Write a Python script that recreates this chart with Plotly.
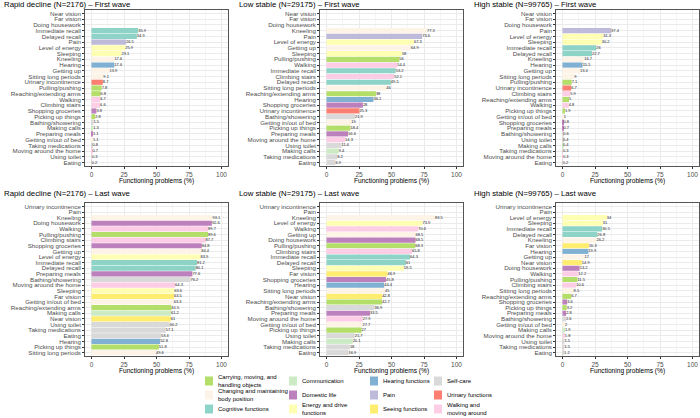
import plotly.graph_objects as go

# ---------------- data ----------------
rd_first_cats = ["Near vision", "Far vision", "Doing housework", "Immediate recall", "Delayed recall", "Pain",
                 "Level of energy", "Sleeping", "Kneeling", "Hearing", "Getting up", "Sitting long periods",
                 "Urinary incontinence", "Pulling/pushing", "Reaching/extending arms", "Walking", "Climbing stairs",
                 "Shopping groceries", "Picking up things", "Bathing/showering", "Making calls", "Preparing meals",
                 "Getting in/out of bed", "Taking medications", "Moving around the home", "Using toilet", "Eating"]
rd_first_vals = [None, None, None, 35.9, 34.9, 26.5, 25.9, 23.1, 17.6, 17.6, 13.9, 9.1, 8.7, 7.8, 6.8, 6.7, 6.6,
                 3.8, 2.8, 1.5, 1.3, 1.1, 1.1, 0.8, 0.7, 0.3, 0.2]

ls_first_cats = ["Near vision", "Far vision", "Doing housework", "Kneeling", "Pain", "Level of energy", "Getting up",
                 "Sleeping", "Pulling/pushing", "Walking", "Immediate recall", "Climbing stairs", "Delayed recall",
                 "Sitting long periods", "Reaching/extending arms", "Hearing", "Shopping groceries",
                 "Urinary incontinence", "Bathing/showering", "Getting in/out of bed", "Picking up things",
                 "Preparing meals", "Moving around the home", "Using toilet", "Making calls", "Taking medications",
                 "Eating"]
ls_first_vals = [None, None, None, 77.3, 73.6, 67.3, 64.9, 58, 56, 54.4, 53.2, 52.1, 49.5, 46, 38, 36.1, 28, 25.3,
                 21.9, 19, 18.4, 16.6, 14.3, 11.6, 9.4, 8.2, 6.9]

hs_first_cats = ["Near vision", "Far vision", "Doing housework", "Pain", "Level of energy", "Sleeping",
                 "Immediate recall", "Delayed recall", "Kneeling", "Hearing", "Getting up", "Sitting long periods",
                 "Pulling/pushing", "Urinary incontinence", "Climbing stairs", "Reaching/extending arms", "Walking",
                 "Picking up things", "Getting in/out of bed", "Shopping groceries", "Preparing meals",
                 "Bathing/showering", "Using toilet", "Making calls", "Taking medications", "Moving around the home",
                 "Eating"]
hs_first_vals = [None, None, None, 37.4, 31.3, 30.2, 26, 22.7, 16.7, 15.5, 13.4, 9, 7.1, 6.7, 5.9, 5, 4.8, 1.9, 1,
                 0.8, 0.7, 0.6, 0.4, 0.4, 0.3, 0.3, 0.2]

rd_last_cats = ["Urinary incontinence", "Pain", "Kneeling", "Doing housework", "Walking", "Pulling/pushing",
                "Climbing stairs", "Shopping groceries", "Getting up", "Level of energy", "Immediate recall",
                "Delayed recall", "Preparing meals", "Bathing/showering", "Moving around the home", "Sleeping",
                "Far vision", "Getting in/out of bed", "Reaching/extending arms", "Making calls", "Near vision",
                "Using toilet", "Taking medications", "Eating", "Hearing", "Picking up things", "Sitting long periods"]
rd_last_vals = [None, None, 93.1, 92.6, 89.7, 89.6, 87.7, 84.8, 84.4, 83.9, 81.2, 80.1, 77.6, 76.2, 64.3, 63.6,
                63.5, 63.3, 61.5, 61.2, 61, 60.2, 57.1, 53.4, 52.8, 51.8, 49.6]

ls_last_cats = ["Urinary incontinence", "Pain", "Kneeling", "Level of energy", "Walking", "Getting up",
                "Doing housework", "Pulling/pushing", "Climbing stairs", "Immediate recall", "Delayed recall",
                "Sleeping", "Far vision", "Shopping groceries", "Hearing", "Sitting long periods", "Near vision",
                "Reaching/extending arms", "Bathing/showering", "Preparing meals", "Moving around the home",
                "Getting in/out of bed", "Picking up things", "Using toilet", "Making calls", "Taking medications",
                "Eating"]
ls_last_vals = [None, None, 83.5, 73.9, 70.6, 68.5, 68.5, 68.3, 65.8, 64.3, 61, 59.5, 46.9, 45.8, 44.4, 45, 42.8,
                42.7, 36.9, 33.5, 27.9, 27.7, 27, 21.7, 20.1, 18, 16.9]

hs_last_cats = ["Urinary incontinence", "Pain", "Level of energy", "Sleeping", "Immediate recall", "Delayed recall",
                "Kneeling", "Far vision", "Hearing", "Getting up", "Near vision", "Doing housework", "Walking",
                "Pulling/pushing", "Climbing stairs", "Sitting long periods", "Reaching/extending arms",
                "Shopping groceries", "Picking up things", "Preparing meals", "Bathing/showering",
                "Getting in/out of bed", "Making calls", "Moving around the home", "Using toilet",
                "Taking medications", "Eating"]
hs_last_vals = [None, None, 34, 31, 30.5, 26.8, 26.2, 20.3, 19.9, 17, 14.9, 13.2, 12.2, 11.5, 10.6, 8.5, 6.7, 3.6,
                3.2, 2.8, 2.6, 2, 1.9, 1.8, 1.5, 1.5, 1.2]

panel_titles = ["Rapid decline (N=2176) \u2013 First wave", "Low stable (N=29175) \u2013 First wave",
                "High stable (N=99765) \u2013 First wave", "Rapid decline (N=2176) \u2013 Last wave",
                "Low stable (N=29175) \u2013 Last wave", "High stable (N=99765) \u2013 Last wave"]

group_names = ["Carrying, moving, and handling objects", "Changing and maintaining body position",
               "Cognitive functions", "Communication", "Domestic life", "Energy and drive functions",
               "Hearing functions", "Pain", "Seeing functions", "Self-care", "Urinary functions",
               "Walking and moving around"]
group_colors = ["#B3DE69", "#FDF3E7", "#8DD3C7", "#CCEBC5", "#BC80BD", "#FFFFB3",
                "#80B1D3", "#BEBADA", "#FFED6F", "#D9D9D9", "#FB8072", "#FCCDE5"]
group_labels = ["Carrying, moving, and<br>handling objects", "Changing and maintaining<br>body position",
                "Cognitive functions", "Communication", "Domestic life", "Energy and drive<br>functions",
                "Hearing functions", "Pain", "Seeing functions", "Self-care", "Urinary functions",
                "Walking and<br>moving around"]

item_group = {
    "Near vision": "Seeing functions", "Far vision": "Seeing functions",
    "Doing housework": "Domestic life", "Shopping groceries": "Domestic life", "Preparing meals": "Domestic life",
    "Immediate recall": "Cognitive functions", "Delayed recall": "Cognitive functions",
    "Pain": "Pain",
    "Level of energy": "Energy and drive functions", "Sleeping": "Energy and drive functions",
    "Kneeling": "Changing and maintaining body position", "Getting up": "Changing and maintaining body position",
    "Sitting long periods": "Changing and maintaining body position",
    "Getting in/out of bed": "Changing and maintaining body position",
    "Hearing": "Hearing functions",
    "Urinary incontinence": "Urinary functions",
    "Pulling/pushing": "Carrying, moving, and handling objects",
    "Reaching/extending arms": "Carrying, moving, and handling objects",
    "Picking up things": "Carrying, moving, and handling objects",
    "Walking": "Walking and moving around", "Climbing stairs": "Walking and moving around",
    "Moving around the home": "Walking and moving around",
    "Bathing/showering": "Self-care", "Using toilet": "Self-care", "Taking medications": "Self-care",
    "Eating": "Self-care",
    "Making calls": "Communication",
}

x_ticks = [0, 25, 50, 75, 100]
x_title = "Functioning problems (%)"

panels = [(rd_first_cats, rd_first_vals), (ls_first_cats, ls_first_vals), (hs_first_cats, hs_first_vals),
          (rd_last_cats, rd_last_vals), (ls_last_cats, ls_last_vals), (hs_last_cats, hs_last_vals)]

# ---------------- layout geometry (pixels) ----------------
W, H = 700, 418
col_px = [(85, 228), (320, 463), (556, 699)]
row_px = [(10, 166), (203, 356)]
title_x_px = [2, 237, 472]
title_y_px = [4.5, 193]
xtitle_y_px = [181, 371]


def px_x(x):
    return x / W


def px_y(y):
    return 1 - y / H


fig = go.Figure()
color_of = dict(zip(group_names, group_colors))
annotations = []
shapes = []
layout_axes = {}
FONT = "Liberation Sans"

for p, (cats, vals) in enumerate(panels):
    r, c = divmod(p, 3)
    idx = p + 1
    xa = "x" if idx == 1 else f"x{idx}"
    ya = "y" if idx == 1 else f"y{idx}"
    for g in group_names:
        ys = [cat for cat, v in zip(cats, vals) if item_group[cat] == g and v is not None]
        xs = [v for cat, v in zip(cats, vals) if item_group[cat] == g and v is not None]
        if not ys:
            continue
        fig.add_trace(go.Bar(x=xs, y=ys, orientation="h", marker=dict(color=color_of[g], line=dict(width=0)),
                             xaxis=xa, yaxis=ya, showlegend=False, name=g, hoverinfo="x+y"))
    tx = [v for v in vals if v is not None]
    ty = [cat for cat, v in zip(cats, vals) if v is not None]
    fig.add_trace(go.Scatter(x=tx, y=ty, mode="text", text=[f"{v:g}" for v in tx], textposition="middle right",
                             textfont=dict(size=4, color="#222222", family=FONT),
                             xaxis=xa, yaxis=ya, showlegend=False, hoverinfo="skip", cliponaxis=False))
    x0, x1 = col_px[c]
    y0, y1 = row_px[r]
    n = len(cats)
    layout_axes["xaxis" if idx == 1 else f"xaxis{idx}"] = dict(
        domain=[px_x(x0), px_x(x1)], anchor=ya, range=[-5, 105], tickvals=x_ticks,
        ticks="outside", ticklen=2, tickwidth=0.6, tickcolor="#333333",
        tickfont=dict(size=6.5, color="#4D4D4D", family=FONT),
        showgrid=True, gridcolor="#EBEBEB", gridwidth=0.6, zeroline=False,
        minor=dict(dtick=12.5, tick0=0, showgrid=True, gridcolor="#F5F5F5", gridwidth=0.4, ticks=""),
        showline=True, mirror=True, linecolor="#555555", linewidth=0.6, fixedrange=True)
    layout_axes["yaxis" if idx == 1 else f"yaxis{idx}"] = dict(
        domain=[px_y(y1), px_y(y0)], anchor=xa, type="category", categoryorder="array", categoryarray=cats,
        range=[n - 1 + 0.6, -0.6], tickmode="array", tickvals=cats, ticktext=cats,
        ticks="outside", ticklen=2, tickwidth=0.6, tickcolor="#333333",
        tickfont=dict(size=6.2, color="#4D4D4D", family=FONT),
        showgrid=True, gridcolor="#EBEBEB", gridwidth=0.6, zeroline=False,
        showline=True, mirror=True, linecolor="#555555", linewidth=0.6, fixedrange=True)
    annotations.append(dict(text=panel_titles[p], x=px_x(title_x_px[c]), y=px_y(title_y_px[r]), xref="paper",
                            yref="paper", xanchor="left", yanchor="middle", showarrow=False,
                            font=dict(size=7.8, color="#000000", family=FONT)))
    annotations.append(dict(text=x_title, x=px_x((x0 + x1) / 2), y=px_y(xtitle_y_px[r]), xref="paper",
                            yref="paper", xanchor="center", yanchor="middle", showarrow=False,
                            font=dict(size=6.6, color="#000000", family=FONT)))

# ---------------- manual legend (column-major, 4 columns x 3 rows) ----------------
leg_col_x = [205, 289, 370, 434]
leg_row_y = [381, 395, 409]
sw_w, sw_h = 8, 9
for i, (g, lab) in enumerate(zip(group_names, group_labels)):
    col, row = divmod(i, 3)
    sx = leg_col_x[col]
    sy = leg_row_y[row]
    shapes.append(dict(type="rect", xref="paper", yref="paper", x0=px_x(sx), x1=px_x(sx + sw_w),
                       y0=px_y(sy + sw_h / 2), y1=px_y(sy - sw_h / 2), fillcolor=color_of[g],
                       line=dict(width=0)))
    annotations.append(dict(text=lab, x=px_x(sx + sw_w + 3), y=px_y(sy), xref="paper", yref="paper",
                            xanchor="left", yanchor="middle", align="left", showarrow=False,
                            font=dict(size=6, color="#000000", family=FONT)))

fig.update_layout(width=W, height=H, margin=dict(l=0, r=0, t=0, b=0), paper_bgcolor="white",
                  plot_bgcolor="white", barmode="overlay", bargap=0.1, showlegend=False,
                  annotations=annotations, shapes=shapes, **layout_axes)

fig.write_html("out.html")
